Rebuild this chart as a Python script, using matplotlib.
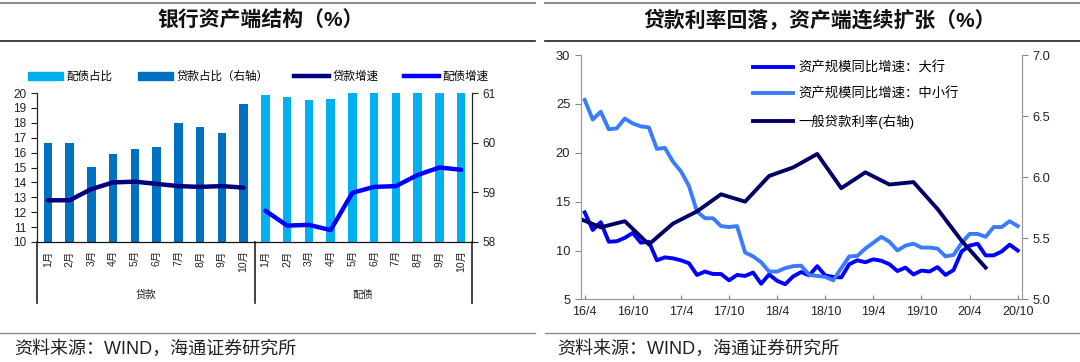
import matplotlib
matplotlib.use('Agg')
import matplotlib.pyplot as plt
import numpy as np
from matplotlib.lines import Line2D
from matplotlib.patches import Patch
import matplotlib.transforms as mtransforms

plt.rcParams['font.family'] = ['Liberation Sans', 'Noto Sans CJK SC']
plt.rcParams['axes.unicode_minus'] = False

# ---------------- data: left chart ----------------
months = ['1月', '2月', '3月', '4月', '5月', '6月', '7月', '8月', '9月', '10月']
groups = ['贷款', '配债']
loan_share = [60.0, 60.0, 59.51, 59.77, 59.87, 59.91, 60.40, 60.32, 60.19, 60.78]   # right axis
bond_share = [19.85, 19.75, 19.55, 19.6, 20.0, 20.0, 20.0, 20.0, 20.0, 20.0]      # left axis
loan_growth = [12.8, 12.8, 13.55, 14.0, 14.05, 13.9, 13.75, 13.7, 13.75, 13.65]
bond_growth = [12.1, 11.1, 11.15, 10.8, 13.3, 13.7, 13.75, 14.5, 15.0, 14.85]

# ---------------- data: right chart ----------------
date_labels = ['16/4', '16/10', '17/4', '17/10', '18/4', '18/10', '19/4', '19/10', '20/4', '20/10']
big_bank_growth = [13.9, 12.1, 12.9, 10.9, 10.95, 11.3, 11.8, 10.8, 10.9, 9.0,
                   9.3, 9.2, 9.0, 8.7, 7.5, 7.85, 7.6, 7.6, 6.95, 7.5,
                   7.4, 7.75, 6.6, 7.55, 6.9, 6.55, 7.35, 7.8, 7.45, 8.4,
                   7.45, 7.3, 7.25, 8.6, 9.0, 8.8, 9.1, 8.95, 8.6, 7.9,
                   8.25, 7.55, 7.95, 7.85, 8.3, 7.5, 8.0, 9.9, 10.5, 10.7,
                   9.5, 9.5, 9.9, 10.6, 10.0]
small_bank_growth = [25.4, 23.4, 24.2, 22.4, 22.5, 23.5, 23.0, 22.7, 22.6, 20.4,
                     20.5, 19.1, 18.1, 16.6, 14.0, 13.3, 13.3, 12.5, 12.4, 12.5,
                     9.8, 9.4, 8.8, 7.85, 7.85, 8.2, 8.4, 8.45, 7.5, 7.4,
                     7.3, 6.95, 8.2, 9.4, 9.45, 10.2, 10.8, 11.4, 10.9, 10.0,
                     10.5, 10.7, 10.3, 10.3, 10.2, 9.4, 9.55, 10.75, 11.7, 11.7,
                     11.4, 12.4, 12.4, 13.0, 12.5]
# quarterly general loan rate, 2016Q1 .. 2020Q2
loan_rate = [5.67, 5.59, 5.64, 5.45, 5.62, 5.72, 5.86, 5.80, 6.01, 6.08,
             6.19, 5.91, 6.04, 5.94, 5.96, 5.74, 5.48, 5.26]

W, H = 1080, 362
fig = plt.figure(figsize=(W / 100, H / 100), dpi=100)


def px(x0, y0, x1, y1):
    return [x0 / W, 1 - y1 / H, (x1 - x0) / W, (y1 - y0) / H]


def fy(y):
    return 1 - y / H


# ---------------- frame lines / titles ----------------
for (a, b) in [(0, 535), (545, 1080)]:
    fig.add_artist(Line2D([a / W, b / W], [fy(3), fy(3)], color='#8c8c8c', lw=1.5))
    fig.add_artist(Line2D([a / W, b / W], [fy(41), fy(41)], color='#222222', lw=1.2))
    fig.add_artist(Line2D([a / W, b / W], [fy(333), fy(333)], color='#8c8c8c', lw=1.0))

fig.text(261 / W, fy(21), '银行资产端结构（%）', ha='center', va='center',
         fontsize=15, fontweight='bold', color='#111111')
fig.text(820 / W, fy(21), '贷款利率回落，资产端连续扩张（%）', ha='center', va='center',
         fontsize=15, fontweight='bold', color='#111111')
fig.text(14 / W, fy(349), '资料来源：WIND，海通证券研究所', ha='left', va='center',
         fontsize=13, color='#222222')
fig.text(557 / W, fy(349), '资料来源：WIND，海通证券研究所', ha='left', va='center',
         fontsize=13, color='#222222')

# ---------------- left chart ----------------
c_light = '#00B0F0'
c_dark = '#0070C0'
c_navy = '#000080'
c_blue = '#0000FF'

ax = fig.add_axes(px(37, 93, 472, 242))
ax2 = ax.twinx()
n = len(months)
xl = np.arange(n)
xb = np.arange(n, 2 * n)
ax2.bar(xl, loan_share, width=0.38, color=c_dark, zorder=2)
ax.bar(xb, bond_share, width=0.38, color=c_light, zorder=2)
ax.plot(xl, loan_growth, color=c_navy, lw=3.2, zorder=3, solid_capstyle='round')
ax.plot(xb, bond_growth, color=c_blue, lw=3.2, zorder=3, solid_capstyle='round')
ax.set_zorder(ax2.get_zorder() + 1)
ax.patch.set_visible(False)

ax.set_xlim(-0.5, 2 * n - 0.5)
ax.set_ylim(10, 20)
ax2.set_ylim(58, 61)
ax.set_yticks(np.arange(10, 21, 1))
ax2.set_yticks(np.arange(58, 62, 1))
ax.set_xticks(np.arange(2 * n))
ax.set_xticklabels(months + months, rotation=90, fontsize=7.5, color='#222222')
ax.tick_params(axis='x', length=0, pad=6)
ax.tick_params(axis='y', labelsize=8.5, length=4, direction='out', colors='#222222')
ax2.tick_params(axis='y', labelsize=8.5, length=4, direction='out', colors='#222222')
for a in (ax, ax2):
    a.spines['top'].set_visible(False)
    a.spines['left'].set_color('#222222')
    a.spines['right'].set_color('#222222')
    a.spines['bottom'].set_color('#111111')

blend = mtransforms.blended_transform_factory(ax.transData, ax.transAxes)
for xs in [-0.5, n - 0.5, 2 * n - 0.5]:
    ax.add_line(Line2D([xs, xs], [0, -0.41], transform=blend, color='#222222',
                       lw=1.2, clip_on=False))
ax.text((n - 1) / 2, -0.355, groups[0], transform=blend, ha='center', va='center',
        fontsize=7.5, color='#222222')
ax.text(n + (n - 1) / 2, -0.355, groups[1], transform=blend, ha='center', va='center',
        fontsize=7.5, color='#222222')

handles = [Patch(color=c_light), Patch(color=c_dark),
           Line2D([], [], color=c_navy, lw=3.2), Line2D([], [], color=c_blue, lw=3.2)]
labels = ['配债占比', '贷款占比（右轴）', '贷款增速', '配债增速']
fig.legend(handles, labels, loc='center left', bbox_to_anchor=(28 / W, fy(77)),
           ncol=4, frameon=False, fontsize=8.3, handlelength=3.0, handleheight=0.7,
           handletextpad=0.35, columnspacing=2.2, borderpad=0, borderaxespad=0)

# ---------------- right chart ----------------
c_big = '#0000FF'
c_small = '#3A7BFF'
c_rate = '#000066'

ax3 = fig.add_axes(px(580.7, 55, 1021.7, 299.4))
m = np.arange(len(big_bank_growth))
l1, = ax3.plot(m, big_bank_growth, color=c_big, lw=2.8)
l2, = ax3.plot(m, small_bank_growth, color=c_small, lw=2.8)
ax4 = ax3.twinx()
qm = np.arange(-1, -1 + 3 * len(loan_rate), 3)
l3, = ax4.plot(qm, loan_rate, color=c_rate, lw=2.8)

ax3.set_xlim(-0.5, len(m) - 0.5)
ax3.set_ylim(5, 30)
ax4.set_ylim(5, 7)
ax3.set_yticks(np.arange(5, 31, 5))
ax4.set_yticks(np.arange(5.0, 7.01, 0.5))
ax4.set_yticklabels([f'{v:.1f}' for v in np.arange(5.0, 7.01, 0.5)])
ax3.set_xticks(np.arange(0, len(m), 6))
ax3.set_xticklabels(date_labels)
ax3.tick_params(axis='x', labelsize=9, length=3, direction='in', colors='#888888',
                labelcolor='#222222', pad=5)
ax3.tick_params(axis='y', labelsize=9.3, length=4, direction='out', colors='#888888',
                labelcolor='#222222')
ax4.tick_params(axis='y', labelsize=9.3, length=4, direction='out', colors='#888888',
                labelcolor='#222222')
for a in (ax3, ax4):
    a.spines['top'].set_visible(False)
    for s in ('left', 'right', 'bottom'):
        a.spines[s].set_color('#9a9a9a')

ax3.legend([l1, l2, l3], ['资产规模同比增速：大行', '资产规模同比增速：中小行', '一般贷款利率(右轴)'],
           loc='upper left', bbox_to_anchor=(753 / W, fy(61)), bbox_transform=fig.transFigure,
           frameon=False, fontsize=9.6, handlelength=3.0, handletextpad=0.4,
           labelspacing=1.0, borderpad=0, borderaxespad=0)

fig.savefig('out.png', dpi=100)
